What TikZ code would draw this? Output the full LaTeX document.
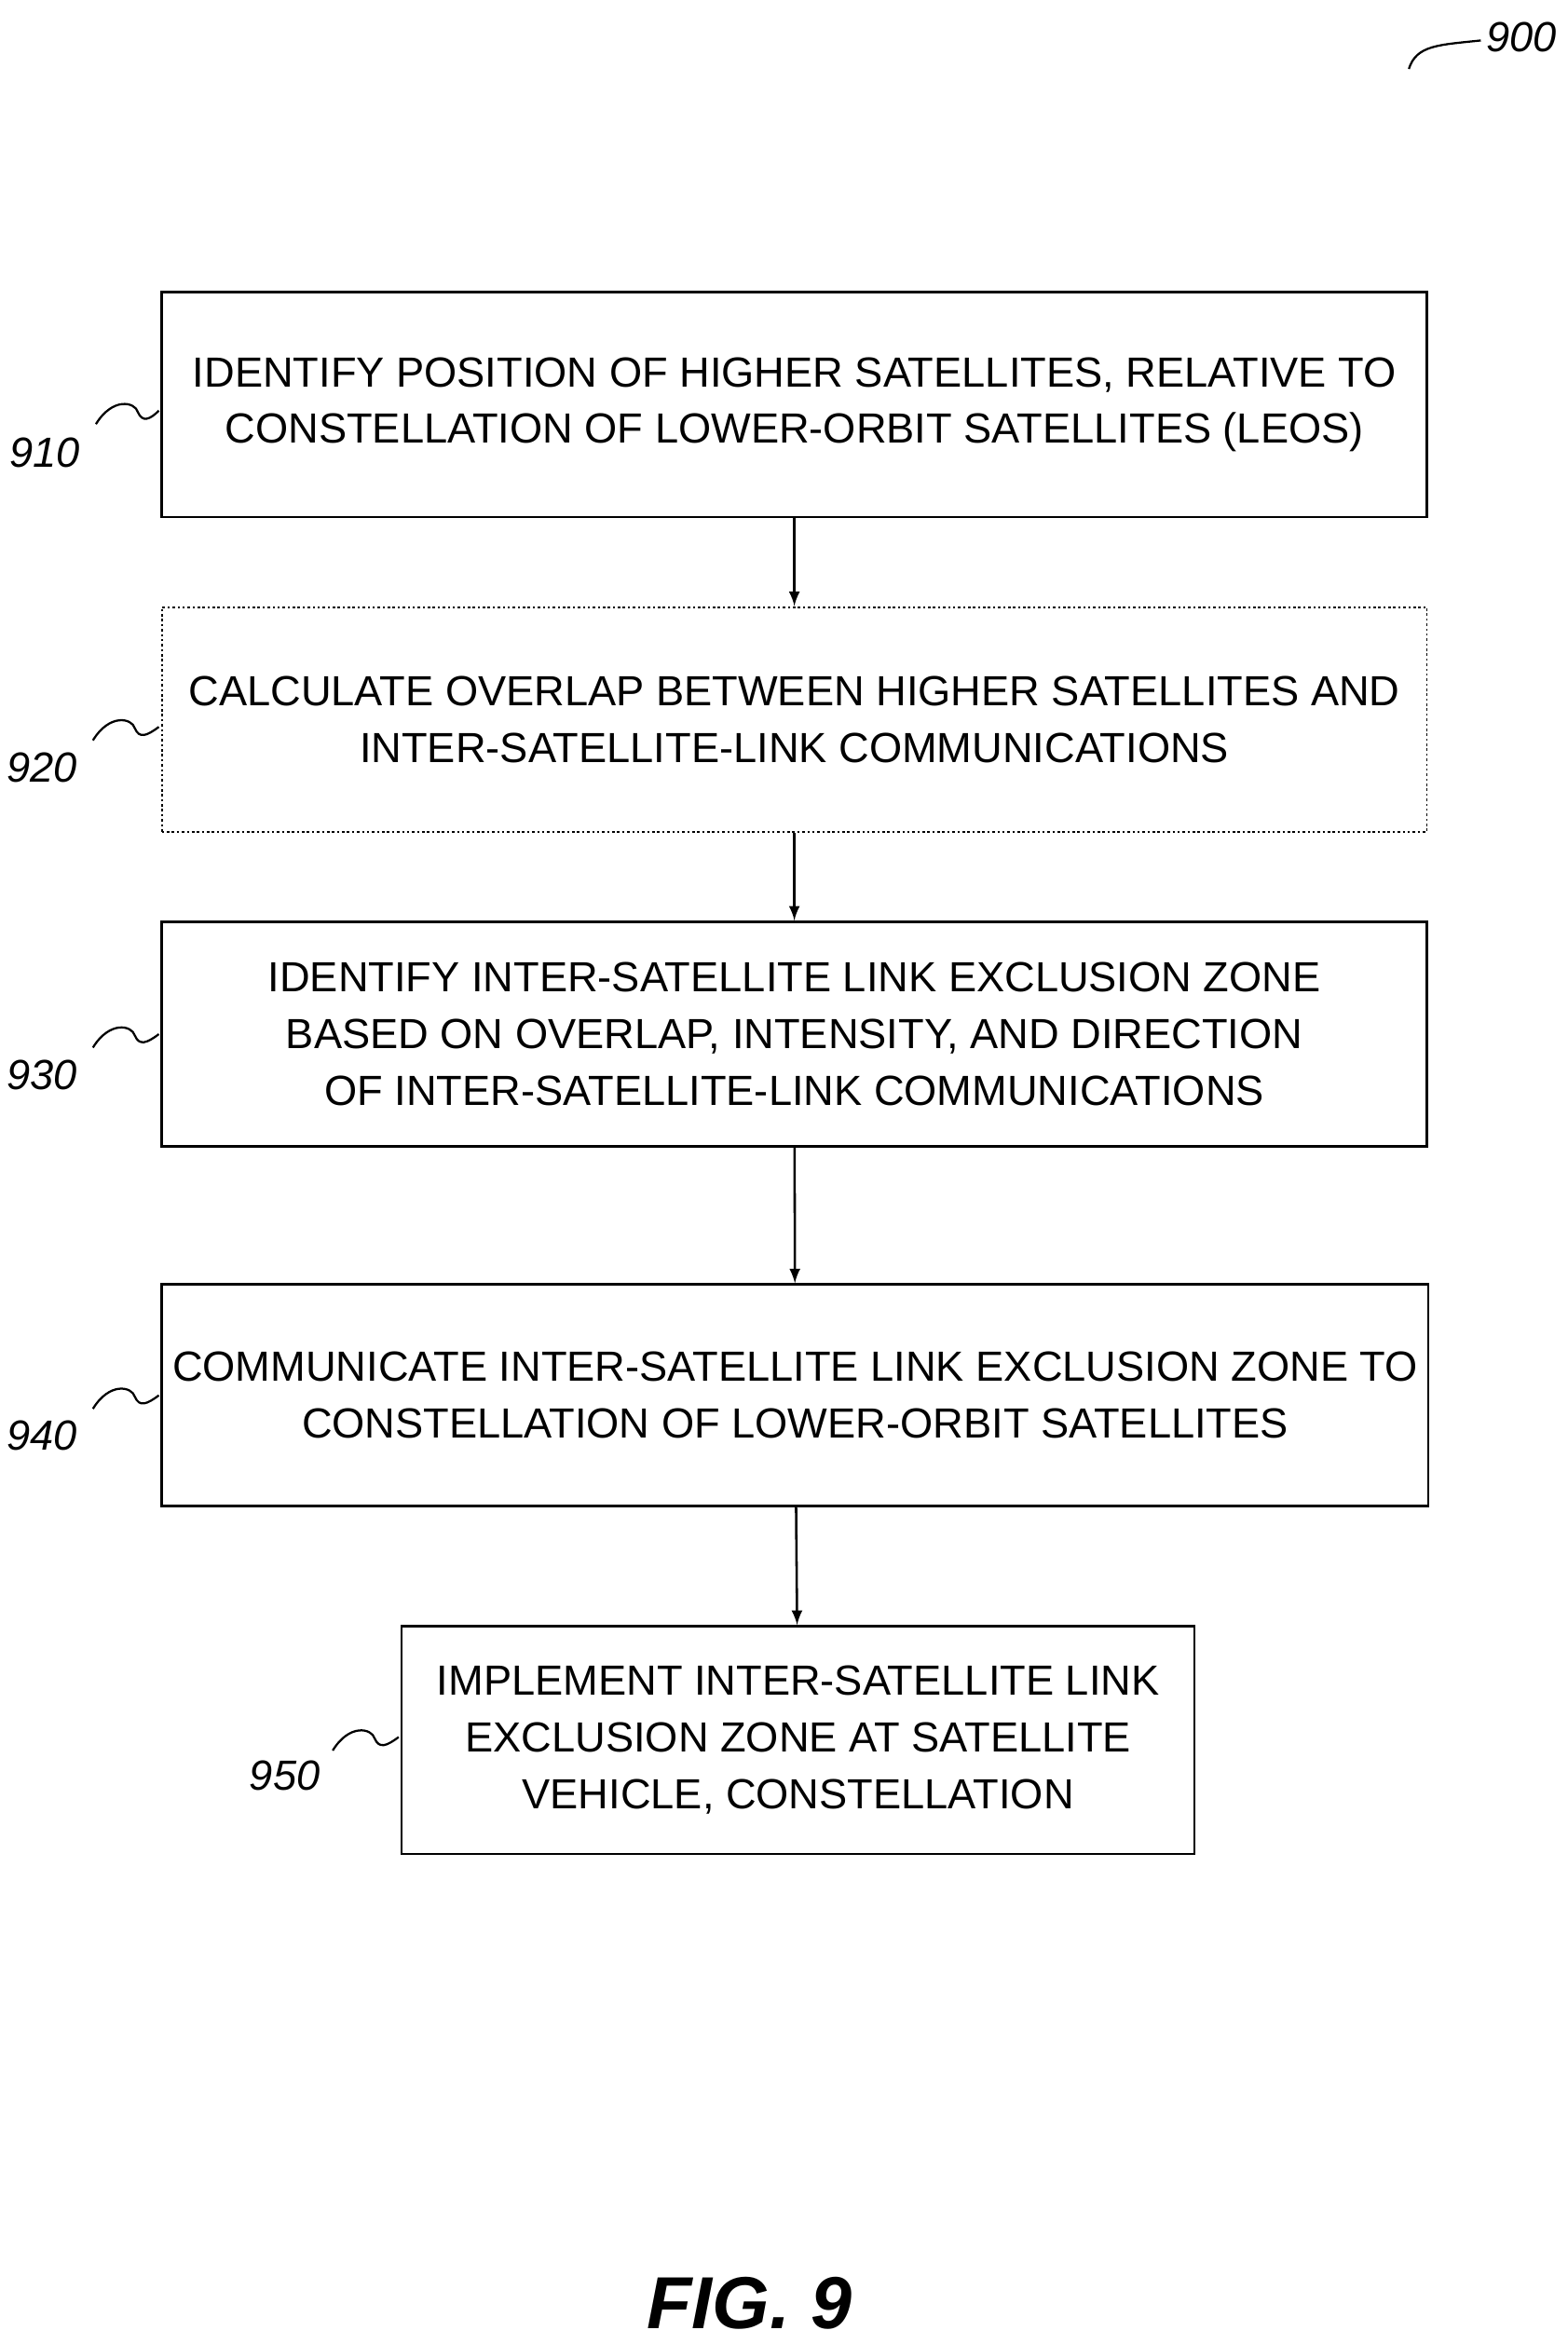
\documentclass[tikz,border=0pt]{standalone}
\usepackage{fontspec}
\setmainfont{Liberation Sans}
\begin{document}
\begin{tikzpicture}[x=0.02cm, y=-0.02cm,
    box/.style={draw, line width=0.9pt, align=center, inner sep=0pt, font=\fontsize{16}{21.5}\selectfont},
    dottedbox/.style={box, densely dotted, line width=0.7pt},
    reflabel/.style={font=\itshape\fontsize{16}{19}\selectfont},
    squiggle/.style={line width=0.8pt},
    flow/.style={-latex, line width=0.9pt},
]
  \useasboundingbox (0,0) rectangle (1046,1564);
  \node [box, minimum width=844*0.02cm, minimum height=150*0.02cm] (s910) at (530,270)
    {IDENTIFY POSITION OF HIGHER SATELLITES, RELATIVE TO\\CONSTELLATION OF LOWER-ORBIT SATELLITES (LEOS)};
  \node [dottedbox, minimum width=844*0.02cm, minimum height=150*0.02cm] (s920) at (530,480)
    {CALCULATE OVERLAP BETWEEN HIGHER SATELLITES AND\\INTER-SATELLITE-LINK COMMUNICATIONS};
  \node [box, minimum width=844*0.02cm, minimum height=150*0.02cm] (s930) at (530,690)
    {IDENTIFY INTER-SATELLITE LINK EXCLUSION ZONE\\BASED ON OVERLAP, INTENSITY, AND DIRECTION\\OF INTER-SATELLITE-LINK COMMUNICATIONS};
  \node [box, minimum width=845*0.02cm, minimum height=148*0.02cm] (s940) at (530.5,931)
    {COMMUNICATE INTER-SATELLITE LINK EXCLUSION ZONE TO\\CONSTELLATION OF LOWER-ORBIT SATELLITES};
  \node [box, minimum width=529*0.02cm, minimum height=152*0.02cm] (s950) at (532.5,1161)
    {IMPLEMENT INTER-SATELLITE LINK\\EXCLUSION ZONE AT SATELLITE\\VEHICLE, CONSTELLATION};

  \draw [flow] (s910) -- (s920);
  \draw [flow] (s920) -- (s930);
  \draw [flow] (s930) -- (s940);
  \draw [flow] (s940) -- (s950);

  % reference numerals
  \node [reflabel] (l910) at (30,302) {910};
  \node [reflabel] (l920) at (28,512) {920};
  \node [reflabel] (l930) at (28,717) {930};
  \node [reflabel] (l940) at (28,958) {940};
  \node [reflabel] (l950) at (190,1185) {950};
  \node [reflabel] (l900) at (1015,25) {900};
  \draw [squiggle] (64,283) .. controls (75,265) and (90,268) .. (92,275) .. controls (95,282) and (100,280) .. (106,274);
  \draw [squiggle] (62,494) .. controls (73,476) and (88,479) .. (90,486) .. controls (93,493) and (98,491) .. (106,485);
  \draw [squiggle] (62,699) .. controls (73,681) and (88,684) .. (90,691) .. controls (93,698) and (98,696) .. (106,690);
  \draw [squiggle] (62,940) .. controls (73,922) and (88,925) .. (90,932) .. controls (93,939) and (98,937) .. (106,931);
  \draw [squiggle] (222,1168) .. controls (233,1150) and (248,1153) .. (250,1160) .. controls (253,1167) and (258,1165) .. (266,1159);
  \draw [squiggle] (940,46) .. controls (945,30) and (960,30) .. (988,27);

  \node [font=\bfseries\itshape\fontsize{28}{30}\selectfont] (fig) at (500,1537) {FIG. 9};
\end{tikzpicture}
\end{document}
